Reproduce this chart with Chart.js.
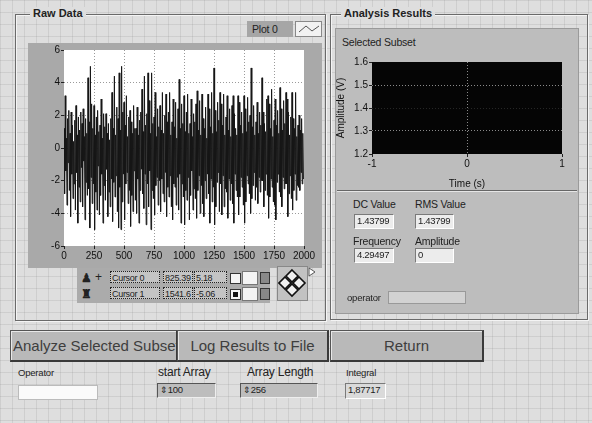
<!DOCTYPE html>
<html>
<head>
<meta charset="utf-8">
<script src="https://cdn.jsdelivr.net/npm/chart.js@4/dist/chart.umd.min.js"></script>
<style>
    html, body {
        margin: 0;
        padding: 0;
    }
    body {
        width: 592px;
        height: 423px;
        overflow: hidden;
        position: relative;
        font-family: "Liberation Sans", Arial, sans-serif;
        color: #222;
        background-color: #dedede;
        background-image:
            linear-gradient(to right, rgba(150,150,150,0.22) 1px, transparent 1px),
            linear-gradient(to bottom, rgba(150,150,150,0.22) 1px, transparent 1px);
        background-size: 12px 12px;
    }
    .abs { position: absolute; }
    .frame {
        position: absolute;
        border: 1px solid #6a6a6a;
        box-shadow: inset 1px 1px 0 #f4f4f4, 1px 1px 0 #f4f4f4;
    }
    .title {
        position: absolute;
        font-size: 11px;
        font-weight: bold;
        background: #dedede;
        padding: 0 3px;
        line-height: 12px;
    }
    .lbl {
        position: absolute;
        font-size: 10.5px;
        line-height: 12px;
        white-space: nowrap;
        letter-spacing: -0.2px;
    }
    .box {
        position: absolute;
        box-sizing: border-box;
        font-size: 9.5px;
        line-height: 12px;
        padding-left: 2px;
        white-space: nowrap;
        overflow: hidden;
        letter-spacing: -0.3px;
    }
    .ind {
        background: #ececec;
        border: 1px solid #7a7a7a;
        border-right-color: #fff;
        border-bottom-color: #fff;
    }
    .ctl {
        background: #bdbdbd;
        border: 1px solid #555;
        border-right-color: #eee;
        border-bottom-color: #eee;
    }
    .cur {
        background: #c4c4c4;
        border: 1px dotted #222;
        height: 12px;
        top: 0;
        padding-left: 1px;
        font-size: 9px;
    }
    .btn {
        position: absolute;
        box-sizing: border-box;
        top: 330px;
        height: 32px;
        background: #b9b9b9;
        border: 1px solid #555;
        border-bottom: 2px solid #3a3a3a;
        border-right: 2px solid #3a3a3a;
        box-shadow: inset 1px 1px 0 #e8e8e8;
        font-size: 15px;
        line-height: 29px;
        color: #3e3e3e;
        white-space: nowrap;
        overflow: hidden;
        text-align: center;
    }
    canvas { position: absolute; }
</style>
</head>
<body>

<!-- RAW DATA -->
<div class="frame" style="left:15px; top:14px; width:309px; height:305px;"></div>
<div class="title" style="left:30px; top:7px;">Raw Data</div>

<div class="abs" style="left:247px; top:21px; width:46px; height:16px; background:#a6a6a6;"></div>
<div class="lbl" style="left:252px; top:23px;">Plot 0</div>
<div class="abs" style="left:295px; top:21px; width:27px; height:16px; background:#f2f2f2; border:1px solid #888; box-sizing:border-box;">
    <svg width="25" height="14"><polyline points="3,10 10,4 16,9 23,4" fill="none" stroke="#555" stroke-width="1"/></svg>
</div>

<div class="abs" style="left:28px; top:43px; width:294px; height:225px; background:#a9a9a9;"></div>
<canvas id="rawChart" style="left:28px; top:43px;" width="294" height="225"></canvas>

<!-- cursor palette -->
<div class="abs" style="left:77px; top:268px; width:193px; height:35px; background:#ababab;"></div>
<div class="lbl" style="left:81px; top:272px; font-weight:bold; font-size:12px;">&#9823;</div>
<div class="lbl" style="left:95px; top:271px; font-size:12px;">+</div>
<div class="lbl" style="left:81px; top:288px; font-weight:bold; font-size:12px;">&#9820;</div>
<div class="abs" style="left:108px; top:271px; width:160px; height:14px;">
    <div class="box cur" style="left:2px; width:50px;">Cursor 0</div>
    <div class="box cur" style="left:55px; width:30px;">825.39</div>
    <div class="box cur" style="left:86px; width:33px;">5.18</div>
    <div class="abs" style="left:122px; top:2px; width:9px; height:9px; background:#f4f4f4; border:1px solid #333;"></div>
    <div class="abs" style="left:134px; top:0; width:14px; height:12px; background:#f4f4f4; border:1px solid #777;"></div>
    <div class="abs" style="left:152px; top:1px; width:8px; height:10px; background:#888; border:1px solid #333;"></div>
</div>
<div class="abs" style="left:108px; top:287px; width:160px; height:14px;">
    <div class="box cur" style="left:2px; width:50px;">Cursor 1</div>
    <div class="box cur" style="left:55px; width:30px;">1541.6</div>
    <div class="box cur" style="left:86px; width:33px;">-5.06</div>
    <div class="abs" style="left:122px; top:2px; width:9px; height:9px; background:#f4f4f4; border:1px solid #333;"><div style="margin:2px; width:5px; height:5px; background:#111;"></div></div>
    <div class="abs" style="left:134px; top:0; width:14px; height:12px; background:#f4f4f4; border:1px solid #777;"></div>
    <div class="abs" style="left:152px; top:1px; width:8px; height:10px; background:#888; border:1px solid #333;"></div>
</div>
<div class="abs" style="left:277px; top:266px; width:31px; height:35px; background:#c2c2c2; border:1px solid #888; box-sizing:border-box;">
    <svg width="29" height="33">
        <polygon points="14,3 20,9 14,15 8,9" fill="#f0f0f0" stroke="#111" stroke-width="1.6"/>
        <polygon points="14,17 20,23 14,29 8,23" fill="#f0f0f0" stroke="#111" stroke-width="1.6"/>
        <polygon points="7,10 13,16 7,22 1,16" fill="#f0f0f0" stroke="#111" stroke-width="1.6"/>
        <polygon points="21,10 27,16 21,22 15,16" fill="#f0f0f0" stroke="#111" stroke-width="1.6"/>
    </svg>
</div>
<svg class="abs" style="left:308px; top:267px;" width="8" height="10"><polygon points="1,1 7,5 1,9" fill="#fff" stroke="#555"/></svg>

<!-- ANALYSIS RESULTS -->
<div class="frame" style="left:330px; top:14px; width:256px; height:304px;"></div>
<div class="title" style="left:341px; top:7px;">Analysis Results</div>
<div class="abs" style="left:335px; top:28px; width:244px; height:286px; background:#bdbdbd; border:1px solid #9a9a9a; box-sizing:border-box;"></div>
<div class="abs" style="left:337px; top:190px; width:240px; height:1px; background:#666; box-shadow:0 1px 0 #e6e6e6;"></div>
<div class="lbl" style="left:342px; top:36px;">Selected Subset</div>
<canvas id="subsetChart" style="left:335px; top:55px;" width="240" height="135"></canvas>

<div class="lbl" style="left:353px; top:198px;">DC Value</div>
<div class="lbl" style="left:415px; top:198px;">RMS Value</div>
<div class="box ind" style="left:354px; top:214px; width:40px; height:15px;">1.43799</div>
<div class="box ind" style="left:415px; top:214px; width:39px; height:15px;">1.43799</div>
<div class="lbl" style="left:353px; top:235px;">Frequency</div>
<div class="lbl" style="left:415px; top:235px;">Amplitude</div>
<div class="box ind" style="left:354px; top:248px; width:40px; height:15px;">4.29497</div>
<div class="box ind" style="left:415px; top:248px; width:39px; height:15px;">0</div>
<div class="lbl" style="left:347px; top:292px; font-size:9.5px;">operator</div>
<div class="box" style="left:388px; top:291px; width:78px; height:13px; background:#d2d2d2; border:1px solid #999;"></div>

<!-- BUTTONS -->
<div class="btn" style="left:10px; width:168px; text-align:left; padding-left:2px;">Analyze Selected Subset</div>
<div class="btn" style="left:177px; width:152px;">Log Results to File</div>
<div class="btn" style="left:330px; width:154px;">Return</div>

<!-- BOTTOM CONTROLS -->
<div class="lbl" style="left:18px; top:367px; font-size:9.5px;">Operator</div>
<div class="box" style="left:18px; top:385px; width:80px; height:15px; background:#fafafa; border:1px solid #bbb;"></div>
<div class="lbl" style="left:158px; top:366px; font-size:12px;">start Array</div>
<div class="box ctl" style="left:157px; top:383px; width:59px; height:15px;"><span style="font-size:9px;">&#8661;</span>100</div>
<div class="lbl" style="left:247px; top:366px; font-size:12px;">Array Length</div>
<div class="box ctl" style="left:240px; top:383px; width:78px; height:15px;"><span style="font-size:9px;">&#8661;</span>256</div>
<div class="lbl" style="left:346px; top:367px; font-size:9.5px;">Integral</div>
<div class="box ind" style="left:345px; top:383px; width:41px; height:16px; background:#dadada;">1,87717</div>

<script>

// RAW DATA (one sample every rawStep units)

const rawStep = 5;

const rawValues = [
    1.2, -2.8, 3.2, -1.4, 0.6, -3.5, 1.8, -0.9, 2.3, -2.6,
    0.9, -4.2, 2.2, -1.6, 1.4, -3.1, 0.4, -2.2, 1.7, -3.8,
    2.6, -1.5, 0.8, -4.6, 1.9, -2.4, 1.1, -3.3, 2.2, -1.2,
    1.5, -3.6, 2.4, -0.8, 0.7, -4.4, 1.8, -2.1, 0.9, -2.9,
    4.3, -2.5, 1.6, -4.9, 5.0, -1.8, 2.7, -3.4, 1.2, -2.2,
    2.6, -5.0, 0.8, -2.7, 1.9, -3.8, 2.3, -1.1, 1.0, -4.1,
    1.4, -2.9, 3.0, -1.6, 0.6, -4.6, 2.1, -2.3, 1.3, -3.2,
    2.1, -1.3, 0.9, -4.2, 1.5, -2.7, 0.5, -3.6, 1.8, -1.9,
    3.4, -4.5, 1.2, -2.1, 4.4, -3.0, 0.8, -1.7, 2.5, -3.9,
    1.8, -4.9, 4.6, -2.4, 1.1, -5.0, 5.0, -3.3, 2.2, -1.6,
    2.8, -4.4, 1.4, -2.2, 3.2, -1.5, 0.7, -3.4, 1.9, -2.6,
    2.3, -4.8, 1.6, -2.9, 0.9, -3.9, 2.6, -1.4, 1.2, -3.2,
    1.2, -4.0, 2.5, -1.9, 0.8, -4.6, 1.7, -2.6, 2.2, -1.3,
    3.6, -2.8, 1.0, -3.7, 4.4, -1.6, 1.4, -4.7, 2.1, -2.2,
    4.6, -3.6, 2.9, -1.4, 0.9, -5.0, 4.6, -2.6, 1.5, -3.1,
    1.9, -4.1, 3.4, -2.3, 0.7, -1.8, 2.4, -3.5, 1.3, -2.0,
    2.6, -3.9, 1.1, -1.9, 3.4, -2.8, 0.9, -3.3, 2.0, -1.5,
    3.3, -4.2, 1.6, -2.4, 2.2, -3.0, 3.4, -1.7, 0.8, -3.6,
    1.6, -4.4, 3.0, -2.2, 1.3, -2.4, 2.8, -3.5, 0.6, -1.8,
    2.4, -3.8, 4.2, -1.6, 1.2, -4.6, 2.7, -2.2, 1.5, -3.0,
    3.2, -4.7, 1.0, -2.6, 2.2, -3.2, 3.3, -1.8, 0.9, -4.4,
    1.5, -2.9, 3.0, -1.4, 0.7, -3.8, 2.1, -2.5, 1.6, -3.1,
    2.7, -4.3, 3.5, -2.6, 1.1, -1.7, 2.9, -4.0, 0.8, -2.3,
    3.3, -3.4, 1.8, -4.2, 1.2, -2.0, 2.5, -3.1, 0.6, -1.6,
    3.3, -2.8, 2.4, -4.6, 1.3, -1.9, 3.4, -3.3, 0.9, -2.4,
    4.9, -4.7, 2.3, -3.6, 1.0, -2.1, 2.8, -1.5, 1.7, -3.9,
    3.4, -2.2, 2.7, -4.1, 1.4, -1.7, 3.3, -3.6, 0.8, -2.5,
    1.9, -2.7, 3.2, -4.3, 1.1, -1.9, 2.4, -3.2, 0.7, -2.2,
    2.6, -3.4, 3.2, -4.6, 2.1, -1.6, 1.2, -2.6, 0.8, -3.0,
    3.2, -4.1, 2.8, -3.0, 1.4, -1.8, 2.2, -2.4, 0.9, -3.5,
    3.2, -4.6, 2.4, -3.3, 1.0, -1.7, 3.1, -2.2, 1.6, -2.8,
    2.0, -4.0, 4.9, -3.1, 1.3, -2.3, 2.6, -1.5, 0.8, -3.2,
    1.6, -2.4, 2.8, -3.4, 0.9, -1.8, 2.2, -2.7, 1.4, -2.0,
    4.3, -2.0, 2.2, -3.6, 1.5, -2.6, 1.0, -1.6, 3.0, -2.9,
    3.2, -4.3, 2.7, -3.0, 1.2, -1.9, 3.6, -2.4, 0.7, -3.3,
    1.7, -3.5, 3.0, -4.4, 1.4, -2.1, 2.3, -1.6, 0.9, -2.7,
    3.7, -3.0, 2.4, -3.6, 1.1, -1.8, 2.9, -2.5, 1.5, -2.2,
    3.4, -2.2, 3.0, -4.2, 2.2, -2.8, 0.8, -1.7, 1.9, -3.1,
    3.4, -3.8, 1.8, -2.6, 1.2, -1.6, 3.4, -3.2, 0.7, -2.3,
    1.4, -2.4, 2.0, -2.6, 1.1, -1.5, 1.8, -2.2, 0.9, -1.9
];

const rawXTicks = [0, 250, 500, 750, 1000, 1250, 1500, 1750, 2000];
const rawYTicks = [-6, -4, -2, 0, 2, 4, 6];

// SELECTED SUBSET (nothing plotted)

const subsetValues = [];
const subsetXTicks = [-1, 0, 1];
const subsetYTicks = [1.2, 1.3, 1.4, 1.5, 1.6];

const tickFont = {
    family: "'Liberation Sans', Arial, sans-serif",
    size: 10
};

const areaFill = {
    id: 'areaFill',
    beforeDraw(chart, args, opts) {
        const a = chart.chartArea;
        const ctx = chart.ctx;
        ctx.save();
        ctx.fillStyle = opts.color;
        ctx.fillRect(a.left, a.top, a.right - a.left, a.bottom - a.top);
        ctx.restore();
    }
};

function fixedTicks(values) {
    return (scale) => {
        scale.ticks = values.map(v => ({ value: v }));
    };
}

// grid line only inside the plot, not on its edges
function innerGrid(color, lo, hi) {
    return (c) => {
        if (!c.tick) return color;
        const v = c.tick.value;
        return (Math.abs(v - lo) < 1e-6 || Math.abs(v - hi) < 1e-6) ? 'rgba(0,0,0,0)' : color;
    };
}

// RAW DATA CHART

new Chart(document.getElementById('rawChart'), {

    type: 'line',

    data: {
        datasets: [{
            data: rawValues.map((v, i) => ({ x: i * rawStep, y: v })),
            borderColor: '#161616',
            borderWidth: 1,
            pointRadius: 0,
            tension: 0,
        }]
    },

    options: {
        responsive: false,
        animation: false,
        layout: {
            padding: { top: 7, right: 18, left: 0, bottom: 0 }
        },
        plugins: {
            legend: { display: false },
            tooltip: { enabled: false },
            areaFill: { color: '#ffffff' }
        },
        scales: {
            x: {
                type: 'linear',
                min: 0,
                max: 2000,
                afterBuildTicks: fixedTicks(rawXTicks),
                afterFit: (s) => { s.height = 22; },
                border: { display: false, dash: [1, 2] },
                grid: {
                    color: innerGrid('#9a9a9a', 0, 2000),
                    tickColor: '#222',
                    tickLength: 3,
                    tickBorderDash: [],
                },
                ticks: {
                    color: '#111',
                    font: tickFont,
                    padding: 1,
                    maxRotation: 0,
                    autoSkip: false,
                    callback: (v) => String(v)
                }
            },
            y: {
                min: -6,
                max: 6,
                afterBuildTicks: fixedTicks(rawYTicks),
                afterFit: (s) => { s.width = 36; },
                border: { display: false, dash: [1, 2] },
                grid: {
                    color: innerGrid('#9a9a9a', -6, 6),
                    tickColor: '#222',
                    tickLength: 3,
                    tickBorderDash: [],
                },
                ticks: {
                    color: '#111',
                    font: tickFont,
                    padding: 1,
                    callback: (v) => String(v)
                }
            }
        }
    },

    plugins: [areaFill]
});

// SUBSET CHART

new Chart(document.getElementById('subsetChart'), {

    type: 'line',

    data: {
        datasets: [{
            data: subsetValues,
            borderColor: '#ffffff',
            borderWidth: 1,
            pointRadius: 0,
        }]
    },

    options: {
        responsive: false,
        animation: false,
        layout: {
            padding: { top: 6, right: 13, left: 0, bottom: 0 }
        },
        plugins: {
            legend: { display: false },
            tooltip: { enabled: false },
            areaFill: { color: '#050505' }
        },
        scales: {
            x: {
                type: 'linear',
                min: -1,
                max: 1,
                afterBuildTicks: fixedTicks(subsetXTicks),
                afterFit: (s) => { s.height = 36; },
                border: { display: false, dash: [1, 2] },
                grid: {
                    color: innerGrid('#8a8a8a', -1, 1),
                    tickColor: '#222',
                    tickLength: 3,
                    tickBorderDash: [],
                },
                ticks: {
                    color: '#111',
                    font: tickFont,
                    padding: 1,
                },
                title: {
                    display: true,
                    text: 'Time (s)',
                    color: '#111',
                    font: tickFont,
                    padding: { top: 3, bottom: 0 }
                }
            },
            y: {
                min: 1.2,
                max: 1.6,
                afterBuildTicks: fixedTicks(subsetYTicks),
                afterFit: (s) => { s.width = 37; },
                border: { display: false, dash: [1, 2] },
                grid: {
                    color: (c) => {
                        if (!c.tick) return '#8a8a8a';
                        const v = c.tick.value;
                        if (Math.abs(v - 1.5) < 0.01 || Math.abs(v - 1.3) < 0.01) return '#8a8a8a';
                        if (Math.abs(v - 1.4) < 0.01) return '#262626';
                        return 'rgba(0,0,0,0)';
                    },
                    tickColor: '#222',
                    tickLength: 3,
                    tickBorderDash: [],
                },
                ticks: {
                    color: '#111',
                    font: tickFont,
                    padding: 1,
                    callback: (v) => v.toFixed(1)
                },
                title: {
                    display: true,
                    text: 'Amplitude (V)',
                    color: '#111',
                    font: tickFont,
                    padding: { top: 0, bottom: 1 }
                }
            }
        }
    },

    plugins: [areaFill]
});

</script>
</body>
</html>
